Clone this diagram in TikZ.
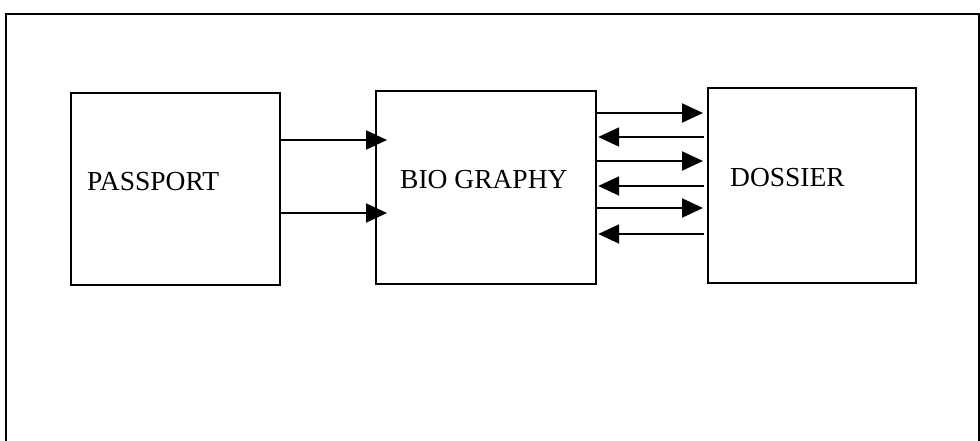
\documentclass[tikz,border=0pt]{standalone}
\usepackage{fontspec}
\setmainfont{Liberation Serif}
\usetikzlibrary{arrows.meta}
\begin{document}
\begin{tikzpicture}[x=1pt,y=-1pt,
  box/.style={draw,line width=2.2pt,rectangle,inner sep=0pt,anchor=north west},
  lbl/.style={anchor=base west,inner sep=0pt,font=\fontsize{27.5}{31}\selectfont},
  conn/.style={line width=2pt,-{Triangle[length=21pt,width=19pt]}}]
\useasboundingbox (0,0) rectangle (980,441);
\draw[line width=2.4pt] (6,441) -- (6,14) -- (979,14) -- (979,441);
\node[box,minimum width=209pt,minimum height=192pt] (pass) at (70,92) {};
\node[box,minimum width=220pt,minimum height=193pt] (bio) at (375,90) {};
\node[box,minimum width=208pt,minimum height=195pt] (doss) at (707,87) {};
\node[lbl] (tpass) at (87,190) {PASSPORT};
\node[lbl] (tbio) at (400,189) {BIO GRAPHY};
\node[lbl] (tdoss) at (730,186) {DOSSIER};
% passport -> biography
\draw[conn] (pass.east |- 0,140) -- ([xshift=12pt]bio.west |- 0,140);
\draw[conn] (pass.east |- 0,213) -- ([xshift=12pt]bio.west |- 0,213);
% biography <-> dossier
\draw[conn] (bio.east |- 0,113) -- ([xshift=-4pt]doss.west |- 0,113);
\draw[conn] ([xshift=-3pt]doss.west |- 0,137) -- ([xshift=1pt]bio.east |- 0,137);
\draw[conn] (bio.east |- 0,161) -- ([xshift=-4pt]doss.west |- 0,161);
\draw[conn] ([xshift=-3pt]doss.west |- 0,186) -- ([xshift=1pt]bio.east |- 0,186);
\draw[conn] (bio.east |- 0,208) -- ([xshift=-4pt]doss.west |- 0,208);
\draw[conn] ([xshift=-3pt]doss.west |- 0,234) -- ([xshift=1pt]bio.east |- 0,234);
\end{tikzpicture}
\end{document}
